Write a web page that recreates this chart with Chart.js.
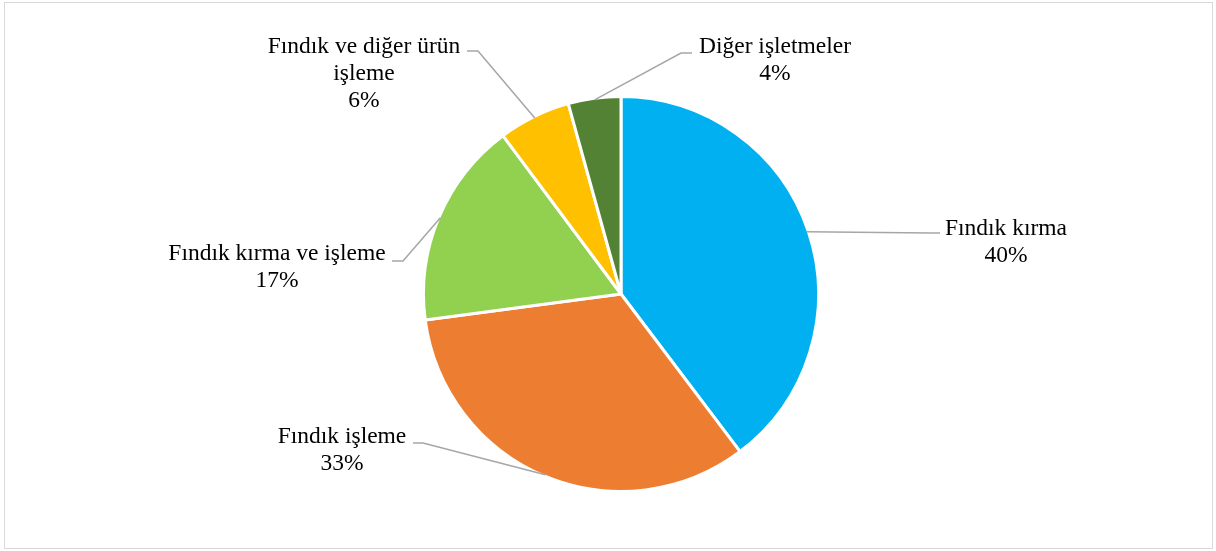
<!DOCTYPE html>
<html>
<head>
<meta charset="utf-8">
<script src="https://cdn.jsdelivr.net/npm/chart.js@4.4.0/dist/chart.umd.min.js"></script>
<style>
    html, body { margin: 0; padding: 0; background: #fff; }
    #wrap { width: 1216px; height: 551px; }
</style>
</head>
<body>
<div id="wrap"><canvas id="pieChart" width="1216" height="551"></canvas></div>
<script>
// Chart data (shares in %, labels show rounded values)
const categories = ['Fındık kırma', 'Fındık işleme', 'Fındık kırma ve işleme', 'Fındık ve diğer ürün işleme', 'Diğer işletmeler'];
const shares = [39.7, 33.2, 16.9, 5.9, 4.3];
const sliceColors = ['#00B0F0', '#ED7D31', '#92D050', '#FFC000', '#548235'];

// Label placement: text centre x, first line y, elbow point, line end, wrap width
const labelLayout = [
    { x: 1006, y: 229, elbow: [930, 233], end: [940, 233], wrap: 400 },
    { x: 342, y: 437, elbow: [423, 443], end: [413, 443], wrap: 400 },
    { x: 277, y: 254, elbow: [403, 261], end: [392, 261], wrap: 400 },
    { x: 364, y: 47, elbow: [478, 51], end: [467, 51], wrap: 220 },
    { x: 775, y: 47, elbow: [681, 53], end: [692, 53], wrap: 400 }
];

const FONT = '23.5px "Liberation Serif", "Times New Roman", serif';
const LINE_H = 27;

function wrapText(ctx, text, maxWidth) {
    const words = text.split(' ');
    const lines = [];
    let cur = '';
    words.forEach(w => {
        const test = cur ? cur + ' ' + w : w;
        if (ctx.measureText(test).width > maxWidth && cur) {
            lines.push(cur);
            cur = w;
        } else {
            cur = test;
        }
    });
    if (cur) lines.push(cur);
    return lines;
}

/**
 * Frame + leader lines + labels
 */
const pieLabels = {
    id: 'pieLabels',
    beforeDraw(chart) {
        const ctx = chart.ctx;
        ctx.save();
        ctx.fillStyle = '#fff';
        ctx.fillRect(0, 0, chart.width, chart.height);
        ctx.strokeStyle = '#d9d9d9';
        ctx.lineWidth = 1;
        ctx.strokeRect(4.5, 2.5, 1208, 546);
        ctx.restore();
    },
    afterDraw(chart) {
        const ctx = chart.ctx;
        const arcs = chart.getDatasetMeta(0).data;
        ctx.save();
        ctx.font = FONT;
        arcs.forEach((arc, i) => {
            const lay = labelLayout[i];
            const mid = (arc.startAngle + arc.endAngle) / 2;
            const r = arc.outerRadius - 1.5;
            const sx = arc.x + Math.cos(mid) * r;
            const sy = arc.y + Math.sin(mid) * r;

            ctx.strokeStyle = '#a6a6a6';
            ctx.lineWidth = 1.5;
            ctx.beginPath();
            ctx.moveTo(sx, sy);
            ctx.lineTo(lay.elbow[0], lay.elbow[1]);
            ctx.lineTo(lay.end[0], lay.end[1]);
            ctx.stroke();

            const lines = wrapText(ctx, categories[i], lay.wrap);
            lines.push(Math.round(shares[i]) + '%');
            ctx.fillStyle = '#000';
            ctx.textAlign = 'center';
            ctx.textBaseline = 'middle';
            lines.forEach((ln, k) => {
                ctx.fillText(ln, lay.x, lay.y + k * LINE_H);
            });
        });
        ctx.restore();
    }
};

new Chart(document.getElementById('pieChart'), {
    type: 'pie',
    data: {
        labels: categories,
        datasets: [{
            data: shares,
            backgroundColor: sliceColors,
            borderColor: '#ffffff',
            borderWidth: 3
        }]
    },
    options: {
        responsive: false,
        animation: false,
        layout: {
            padding: { top: 95, bottom: 58, left: 126, right: 100 }
        },
        plugins: {
            legend: { display: false },
            tooltip: { enabled: false }
        }
    },
    plugins: [pieLabels]
});
</script>
</body>
</html>
